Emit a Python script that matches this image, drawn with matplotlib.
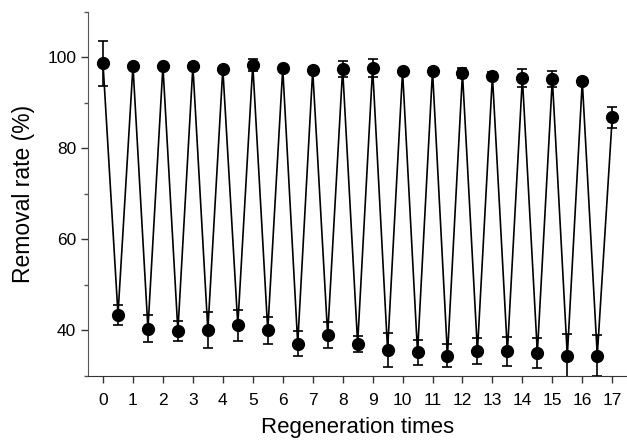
import numpy as np
import matplotlib
matplotlib.use('Agg')
import matplotlib.pyplot as plt
from matplotlib.ticker import MultipleLocator

plt.rcParams['font.family'] = ['Liberation Sans', 'DejaVu Sans']

# regeneration cycles: high = after regeneration, low = after adsorption
high_x = list(range(0, 18))
high_y = [98.7, 98.1, 98.1, 98.1, 97.5, 98.4, 97.6, 97.2, 97.5, 97.7,
          97.0, 97.1, 96.6, 96.0, 95.5, 95.3, 94.8, 86.9]
high_err = [4.9, 0.5, 0.5, 0.6, 0.5, 1.3, 0.6, 0.7, 1.7, 2.0,
            0.5, 0.5, 1.0, 0.8, 2.0, 1.7, 0.8, 2.3]

low_x = [i + 0.5 for i in range(0, 17)]
low_y = [43.5, 40.4, 39.9, 40.1, 41.2, 40.0, 37.1, 39.0, 37.1, 35.7,
         35.2, 34.5, 35.5, 35.4, 35.1, 34.4, 34.5]
low_err = [2.2, 3.0, 2.2, 4.0, 3.4, 2.9, 2.8, 2.9, 1.8, 3.8,
           2.8, 2.6, 2.9, 3.2, 3.3, 4.8, 4.6]

# interleave both series into one zig-zag line
all_x = []
all_y = []
all_err = []
for i in range(len(high_x)):
    all_x.append(high_x[i])
    all_y.append(high_y[i])
    all_err.append(high_err[i])
    if i < len(low_x):
        all_x.append(low_x[i])
        all_y.append(low_y[i])
        all_err.append(low_err[i])

fig = plt.figure(figsize=(6.27, 4.41), dpi=100)
ax = fig.add_axes([0.1404, 0.1474, 0.859, 0.8254])

ax.errorbar(all_x, all_y, yerr=all_err, color='black', marker='o', markersize=8.5,
            linewidth=1.2, elinewidth=1.2, capsize=3.5, capthick=1.2)

ax.set_xlim(-0.5, 17.48)
ax.set_ylim(30, 110)
ax.xaxis.set_major_locator(MultipleLocator(1))
ax.yaxis.set_minor_locator(MultipleLocator(10))
ax.set_yticks([40, 60, 80, 100])

for side in ['top', 'right']:
    ax.spines[side].set_visible(False)
ax.spines['left'].set_color('#555555')
ax.spines['bottom'].set_color('#333333')
ax.tick_params(axis='both', which='major', direction='out', length=5, width=1,
               labelsize=12.5, colors='#333333', labelcolor='black')
ax.tick_params(axis='x', which='major', pad=7)
ax.tick_params(axis='y', which='minor', direction='out', length=3, width=1, colors='#555555')

ax.set_xlabel('Regeneration times', fontsize=16, labelpad=7)
ax.set_ylabel('Removal rate (%)', fontsize=16.5, labelpad=9)

fig.savefig('out.png', dpi=100)
